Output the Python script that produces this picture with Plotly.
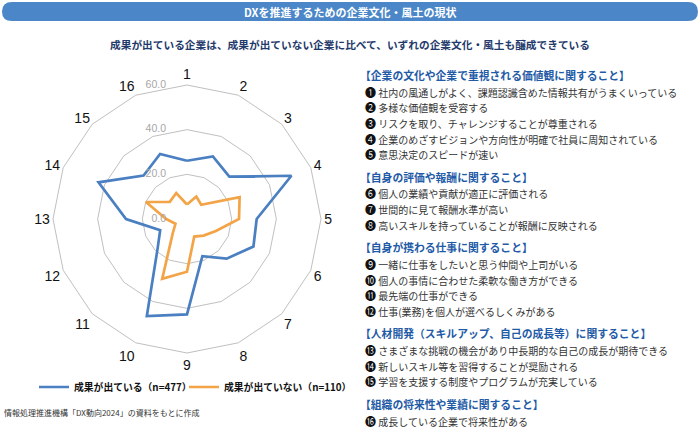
import plotly.graph_objects as go

# 16 items on the radar, values in %
axis_labels = [str(i) for i in range(1, 17)]
success = [26.1, 30.3, 26.8, 50.6, 31.2, 32.2, 25.1, 18.0, 42.7, 47.0, 18.6, 13.0, 27.3, 42.9, 27.5, 31.5]
no_success = [6.5, 10.9, 9.0, 25.5, 23.3, 14.0, 10.5, 8.5, 23.6, 29.0, 9.0, 5.6, 9.3, 19.9, 10.9, 12.6]
series_names = ["成果が出ている（n=477）", "成果が出ていない（n=110）"]
radial_ticks = [0, 20, 40, 60]

title = "DXを推進するための企業文化・風土の現状"
subtitle = "成果が出ている企業は、成果が出ていない企業に比べて、いずれの企業文化・風土も醸成できている"
source = "情報処理推進機構「DX動向2024」の資料をもとに作成"

groups = [
    "【企業の文化や企業で重視される価値観に関すること】",
    "【自身の評価や報酬に関すること】",
    "【自身が携わる仕事に関すること】",
    "【人材開発（スキルアップ、自己の成長等）に関すること】",
    "【組織の将来性や業績に関すること】",
]
group_items = [
    ["社内の風通しがよく、課題認識含めた情報共有がうまくいっている",
     "多様な価値観を受容する",
     "リスクを取り、チャレンジすることが尊重される",
     "企業のめざすビジョンや方向性が明確で社員に周知されている",
     "意思決定のスピードが速い"],
    ["個人の業績や貢献が適正に評価される",
     "世間的に見て報酬水準が高い",
     "高いスキルを持っていることが報酬に反映される"],
    ["一緒に仕事をしたいと思う仲間や上司がいる",
     "個人の事情に合わせた柔軟な働き方ができる",
     "最先端の仕事ができる",
     "仕事(業務)を個人が選べるしくみがある"],
    ["さまざまな挑戦の機会があり中長期的な自己の成長が期待できる",
     "新しいスキル等を習得することが奨励される",
     "学習を支援する制度やプログラムが充実している"],
    ["成長している企業で将来性がある"],
]
markers = list("❶❷❸❹❺❻❼❽❾❿⓫⓬⓭⓮⓯⓰")

W, H = 700, 428
FONT = "Noto Sans CJK JP"
BLUE = "#4a7fc1"
ORANGE = "#f3a446"
HEAD = "#1f5ba6"
GRID = "#c0c0c0"


def px(x):
    return x / W


def py(y):
    return 1 - y / H


def label(x, y, text, size, color, xanchor="left"):
    fig.add_annotation(x=px(x), y=py(y), xref="paper", yref="paper", text=text,
                       xanchor=xanchor, yanchor="middle", showarrow=False,
                       font=dict(size=size, color=color, family=FONT))


fig = go.Figure()
for name, vals, col, leg in [(series_names[0], success, BLUE, "legend"),
                             (series_names[1], no_success, ORANGE, "legend2")]:
    fig.add_trace(go.Scatterpolar(
        r=vals + vals[:1], theta=axis_labels + axis_labels[:1],
        mode="lines", name=name, legend=leg, line=dict(color=col, width=2.7)))

# ring values, drawn horizontally just left of the vertical axis
fig.add_trace(go.Scatterpolar(
    r=radial_ticks, theta=[0] * len(radial_ticks), mode="text",
    text=["%.1f" % v for v in radial_ticks], textposition="middle left",
    textfont=dict(size=10.5, color="#a6a6a6", family="Liberation Sans"),
    subplot="polar2", showlegend=False, hoverinfo="skip"))

leg_style = dict(orientation="h", yanchor="middle", xanchor="left", y=py(387),
                 font=dict(size=9.8, color="#111", family=FONT, weight="bold"),
                 bgcolor="rgba(0,0,0,0)", itemwidth=30)

fig.update_layout(
    width=W, height=H,
    margin=dict(l=0, r=0, t=0, b=0),
    paper_bgcolor="white",
    font=dict(family=FONT, color="#222"),
    polar=dict(
        domain=dict(x=[px(53), px(321)], y=[py(353), py(85)]),
        gridshape="linear",
        bgcolor="white",
        angularaxis=dict(
            direction="clockwise", rotation=90,
            categoryorder="array", categoryarray=axis_labels,
            showgrid=False, showline=True, linecolor=GRID, linewidth=1,
            ticks="", tickfont=dict(size=14, color="#111", family="Liberation Sans"),
        ),
        radialaxis=dict(
            range=[0, 60], tickvals=radial_ticks, showticklabels=False,
            showline=False, gridcolor=GRID, gridwidth=1, ticks="",
        ),
    ),
    polar2=dict(
        domain=dict(x=[px(32), px(300)], y=[py(353), py(85)]),
        bgcolor="rgba(0,0,0,0)",
        angularaxis=dict(direction="clockwise", rotation=90, visible=False),
        radialaxis=dict(range=[0, 60], visible=False),
    ),
    legend=dict(x=px(34), **leg_style),
    legend2=dict(x=px(184), **leg_style),
)

# title banner
fig.add_shape(type="path", xref="paper", yref="paper",
              path="M {a},{t} L {b},{t} Q {c},{t} {c},{m} Q {c},{bt} {b},{bt} L {a},{bt} Q {d},{bt} {d},{m} Q {d},{t} {a},{t} Z".format(
                  a=px(12), b=px(688), c=px(698), d=px(2), t=py(2), bt=py(21), m=py(11.5)),
              fillcolor="#4b87c8", line=dict(width=0), layer="below")
label(350, 11.5, "<b>%s</b>" % title, 11, "white", "center")
label(350, 44, "<b>%s</b>" % subtitle, 10.7, "#1f3a6b", "center")
label(2, 412, source, 8, "#333")

# right-hand key
y = 75
k = 0
for g, items in zip(groups, group_items):
    label(358, y, "<b>%s</b>" % g, 10.8, HEAD)
    y += 17
    for it in items:
        label(363, y, "<span style='color:#111;font-size:11px'>%s</span> %s" % (markers[k], it), 10, "#333")
        k += 1
        y += 15.5
    y += 7

fig.write_html("out.html", config={"displayModeBar": False},
               post_script="document.body.style.margin='0';")
